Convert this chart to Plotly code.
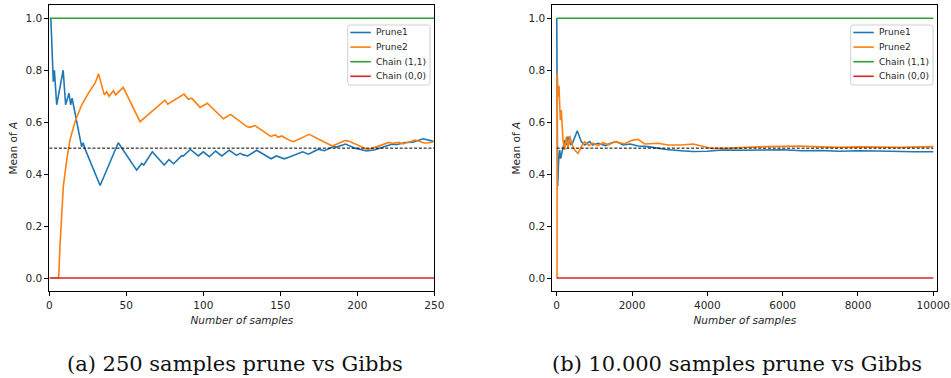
import plotly.graph_objects as go

W, H = 951, 378

# ---------------- data ----------------
# (a) 250 samples
P1_250_X = [1, 2.6, 3.3, 4.8, 9, 10.6, 12.8, 13.9, 14.8, 21, 22, 23, 33, 44.8, 56.7, 60, 61.3,
            66.9, 74.6, 77.7, 80.7, 86, 87, 91.6, 96.8, 100, 103.9, 108, 112, 116.9, 121.5,
            124, 126, 128.8, 134.7, 144, 147.5, 152.5, 155.5, 164.5, 168.3, 174.7, 178.6,
            184.4, 186.5, 192.3, 198.5, 206.1, 211.5, 222.3, 226, 231, 236, 242.7, 249.5]
P1_250_Y = [1.0, 0.756, 0.80, 0.667, 0.80, 0.667, 0.711, 0.667, 0.692, 0.506, 0.521, 0.50, 0.356,
            0.521, 0.415, 0.441, 0.435, 0.486, 0.435, 0.456, 0.440, 0.471, 0.469, 0.495, 0.470,
            0.486, 0.467, 0.489, 0.470, 0.492, 0.472, 0.480, 0.474, 0.470, 0.492, 0.459, 0.470,
            0.459, 0.465, 0.486, 0.477, 0.496, 0.490, 0.506, 0.504, 0.516, 0.500, 0.489, 0.494,
            0.515, 0.514, 0.522, 0.523, 0.536, 0.526]
P2_250_X = [1, 6.1, 6.9, 8.1, 9.1, 11.3, 13.4, 16.7, 21, 25.3, 29.7, 32, 35.7, 37.2, 38.8, 41.6,
            43.1, 48, 58.9, 75.1, 76.9, 87.5, 90.3, 92.5, 97.9, 102.6, 113, 117.8, 128.2, 130.3,
            133.6, 143.8, 146.6, 148.7, 150.9, 156.3, 158.6, 168.7, 183.8, 192, 194, 206.6,
            211.5, 220.5, 223, 227, 229.5, 237.5, 243.5, 246.5, 249.5]
P2_250_Y = [0.0, 0.0, 0.121, 0.249, 0.352, 0.454, 0.531, 0.602, 0.666, 0.711, 0.750, 0.786, 0.705,
            0.717, 0.700, 0.721, 0.705, 0.734, 0.602, 0.685, 0.669, 0.708, 0.688, 0.692, 0.657,
            0.673, 0.613, 0.630, 0.583, 0.580, 0.587, 0.545, 0.551, 0.542, 0.547, 0.529, 0.525,
            0.553, 0.508, 0.529, 0.528, 0.495, 0.503, 0.522, 0.519, 0.522, 0.516, 0.531, 0.520,
            0.521, 0.525]
N_250 = [0, 250]

# (b) 10.000 samples
P1_10K_X = [1, 4, 8, 15, 25, 50, 80, 105, 167, 212, 255, 300, 372, 420, 547, 653, 743, 876, 950,
            1097, 1300, 1450, 1583, 1761, 1950, 2159, 2424, 2690, 2910, 3300, 3600, 4000, 4400,
            5000, 5500, 6000, 6500, 7000, 7500, 8000, 8500, 9000, 9500, 10000]
P1_10K_Y = [1.0, 0.75, 0.80, 0.60, 0.352, 0.45, 0.493, 0.46, 0.50, 0.531, 0.512, 0.544, 0.512,
            0.52, 0.567, 0.525, 0.512, 0.525, 0.512, 0.519, 0.51, 0.52, 0.525, 0.512, 0.516,
            0.508, 0.506, 0.500, 0.495, 0.490, 0.487, 0.488, 0.493, 0.492, 0.493, 0.494, 0.490,
            0.491, 0.488, 0.490, 0.489, 0.487, 0.486, 0.486]
P2_10K_X = [1, 8, 15, 25, 35, 60, 96, 122, 167, 212, 255, 300, 345, 420, 478, 566, 653, 743, 850,
            964, 1100, 1229, 1380, 1540, 1800, 2000, 2159, 2336, 2690, 2956, 3300, 3627, 3900,
            4116, 4600, 5000, 5531, 6000, 6416, 7000, 7500, 8000, 8500, 9114, 10000]
P2_10K_Y = [0.0, 0.0, 0.788, 0.72, 0.698, 0.74, 0.608, 0.647, 0.531, 0.493, 0.544, 0.50, 0.547,
            0.51, 0.493, 0.48, 0.506, 0.525, 0.51, 0.519, 0.51, 0.521, 0.513, 0.525, 0.517, 0.53,
            0.534, 0.516, 0.519, 0.512, 0.512, 0.516, 0.508, 0.499, 0.50, 0.503, 0.506, 0.507,
            0.508, 0.505, 0.503, 0.505, 0.503, 0.503, 0.506]
N_10K = [0, 10000]

CHAIN11 = [1.0, 1.0]
CHAIN00 = [0.0, 0.0]
HALF = [0.5, 0.5]

SERIES = ["Prune1", "Prune2", "Chain (1,1)", "Chain (0,0)"]
COLORS = ["#1f77b4", "#ff7f0e", "#2ca02c", "#d62728"]

X_TICKS_A = [0, 50, 100, 150, 200, 250]
X_TICKS_B = [0, 2000, 4000, 6000, 8000, 10000]
Y_TICKS = [0.0, 0.2, 0.4, 0.6, 0.8, 1.0]
CAPTIONS = ["(a) 250 samples prune vs Gibbs", "(b) 10.000 samples prune vs Gibbs"]

# ---------------- figure ----------------
fig = go.Figure()
LW = 1.6


def add_panel(xa, ya, p1x, p1y, p2x, p2y, n):
    fig.add_trace(go.Scatter(x=p1x, y=p1y, mode="lines", name=SERIES[0], xaxis=xa, yaxis=ya,
                             line=dict(color=COLORS[0], width=LW), showlegend=False))
    fig.add_trace(go.Scatter(x=p2x, y=p2y, mode="lines", name=SERIES[1], xaxis=xa, yaxis=ya,
                             line=dict(color=COLORS[1], width=LW), showlegend=False))
    fig.add_trace(go.Scatter(x=n, y=CHAIN11, mode="lines", name=SERIES[2], xaxis=xa, yaxis=ya,
                             line=dict(color=COLORS[2], width=LW), showlegend=False))
    fig.add_trace(go.Scatter(x=n, y=CHAIN00, mode="lines", name=SERIES[3], xaxis=xa, yaxis=ya,
                             line=dict(color=COLORS[3], width=LW), showlegend=False))
    fig.add_trace(go.Scatter(x=n, y=HALF, mode="lines", name="0.5", xaxis=xa, yaxis=ya,
                             line=dict(color="black", width=1, dash="3px,1.8px"), showlegend=False))


add_panel("x", "y", P1_250_X, P1_250_Y, P2_250_X, P2_250_Y, N_250)
add_panel("x2", "y2", P1_10K_X, P1_10K_Y, P2_10K_X, P2_10K_Y, N_10K)

TICKFONT = dict(family="DejaVu Sans", size=10.5, color="#262626")
TITLEFONT = dict(family="DejaVu Sans", size=10.5, color="#262626")


def xaxis(domain, rng, ticks, anchor):
    return dict(domain=domain, range=rng, anchor=anchor, tickvals=ticks,
                ticktext=[str(t) for t in ticks], automargin=False,
                showline=True, mirror=True, linecolor="black", linewidth=1,
                ticks="outside", ticklen=4, tickwidth=1, tickcolor="black",
                showgrid=False, zeroline=False, tickfont=TICKFONT,
                title=dict(text="<i>Number of samples</i>", font=TITLEFONT, standoff=7))


def yaxis(domain, anchor):
    return dict(domain=domain, range=[-0.05, 1.05], anchor=anchor, tickvals=Y_TICKS,
                ticktext=["%.1f" % t for t in Y_TICKS], automargin=False,
                showline=True, mirror=True, linecolor="black", linewidth=1,
                ticks="outside", ticklen=4, tickwidth=1, tickcolor="black",
                showgrid=False, zeroline=False, tickfont=TICKFONT,
                title=dict(text="Mean of <i>A</i>", font=TITLEFONT, standoff=5))


ydom = [1 - 291 / H, 1 - 5.3 / H]
fig.update_layout(
    width=W, height=H,
    margin=dict(l=0, r=0, t=0, b=0, autoexpand=False),
    paper_bgcolor="white", plot_bgcolor="white",
    showlegend=False,
    xaxis=xaxis([49.3 / W, 434.3 / W], [0, 250], X_TICKS_A, "y"),
    yaxis=yaxis(ydom, "x"),
    xaxis2=xaxis([552.3 / W, 937.3 / W], [-117, 10106], X_TICKS_B, "y2"),
    yaxis2=yaxis(ydom, "x2"),
)

# ---------------- legends (drawn as decoration in paper coords) ----------------
shapes = []
annotations = []


def px(xp):
    return xp / W


def py(yp):
    return 1 - yp / H


def legend(box_l, line_l):
    box_t, box_b, box_r = 25, 85, box_l + 82.3
    r = 2.5
    path = (f"M {px(box_l + r)},{py(box_t)} L {px(box_r - r)},{py(box_t)} "
            f"Q {px(box_r)},{py(box_t)} {px(box_r)},{py(box_t + r)} "
            f"L {px(box_r)},{py(box_b - r)} Q {px(box_r)},{py(box_b)} {px(box_r - r)},{py(box_b)} "
            f"L {px(box_l + r)},{py(box_b)} Q {px(box_l)},{py(box_b)} {px(box_l)},{py(box_b - r)} "
            f"L {px(box_l)},{py(box_t + r)} Q {px(box_l)},{py(box_t)} {px(box_l + r)},{py(box_t)} Z")
    shapes.append(dict(type="path", xref="paper", yref="paper", path=path,
                       fillcolor="rgba(255,255,255,0.85)", line=dict(color="#cfcfcf", width=1)))
    for i, (name, col) in enumerate(zip(SERIES, COLORS)):
        yy = 32.5 + i * 14.6
        shapes.append(dict(type="line", xref="paper", yref="paper",
                           x0=px(line_l), x1=px(line_l + 20.5), y0=py(yy), y1=py(yy),
                           line=dict(color=col, width=LW)))
        annotations.append(dict(xref="paper", yref="paper", x=px(line_l + 24), y=py(yy),
                                xanchor="left", yanchor="middle", showarrow=False, text=name,
                                font=dict(family="DejaVu Sans", size=9, color="#262626")))


legend(347.7, 350.3)
legend(850.7, 853.3)

# captions
for cx, cap in zip([235, 737], CAPTIONS):
    annotations.append(dict(xref="paper", yref="paper", x=px(cx), y=py(364), xanchor="center",
                            yanchor="middle", showarrow=False, text=cap,
                            font=dict(family="DejaVu Serif", size=21, color="#111111")))

fig.update_layout(shapes=shapes, annotations=annotations)
fig.write_html("out.html")
